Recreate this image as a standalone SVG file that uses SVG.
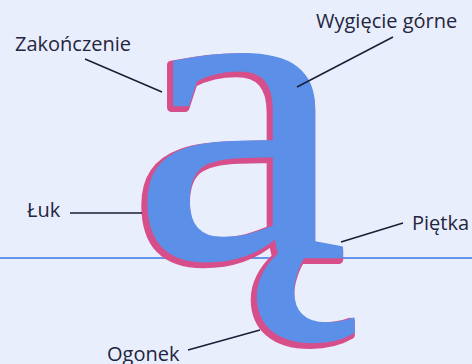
<svg xmlns="http://www.w3.org/2000/svg" width="472" height="364" viewBox="0 0 472 364">
<style>
.lbl{font-family:"Open Sans","Noto Sans",sans-serif;font-size:20px;fill:#24253f}
.lead{stroke:#1c1d36;stroke-width:1.5;fill:none}
.glyph{font-family:"Liberation Serif",serif;font-size:432px;stroke-linejoin:round}
</style>
<rect width="472" height="364" fill="#e8eefb"/>
<line x1="0" y1="258" x2="472" y2="258" stroke="#6396ea" stroke-width="2"/>
<g id="glyph">
<text class="glyph" x="0" y="0" text-anchor="middle" fill="#d64f8a" stroke="#d64f8a" stroke-width="8" transform="translate(237,260) scale(1.13,1)">ą</text>
<text class="glyph" x="0" y="0" text-anchor="middle" fill="#5b8fe8" stroke="#5b8fe8" stroke-width="2.5" transform="translate(240,257) scale(1.13,1)">ą</text>
</g>
<g id="connectors">
<line class="lead" x1="85" y1="59" x2="162" y2="92"/>
<line class="lead" x1="393" y1="37" x2="297" y2="87"/>
<line class="lead" x1="70" y1="213" x2="142" y2="213"/>
<line class="lead" x1="403" y1="223" x2="341" y2="242"/>
<line class="lead" x1="188" y1="350" x2="260" y2="330"/>
</g>
<g id="label-zakonczenie"><text class="lbl" x="15" y="51">Zakończenie</text></g>
<g id="label-wygiecie"><text class="lbl" x="316" y="28">Wygięcie górne</text></g>
<g id="label-luk"><text class="lbl" x="27" y="217">Łuk</text></g>
<g id="label-pietka"><text class="lbl" x="412" y="230">Piętka</text></g>
<g id="label-ogonek"><text class="lbl" x="107" y="361">Ogonek</text></g>
</svg>
